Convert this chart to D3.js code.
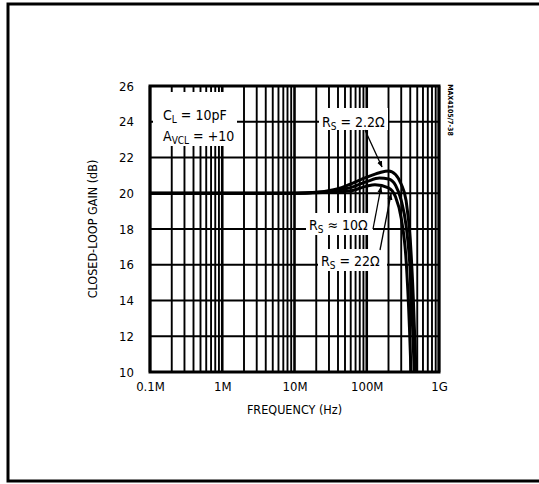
<!DOCTYPE html>
<html><head><meta charset="utf-8">
<script src="https://cdn.jsdelivr.net/npm/d3@7"></script>
<style>
body{margin:0;background:#fff;}
text{font-family:"Liberation Sans Narrow","DejaVu Sans Condensed","Liberation Sans",sans-serif;fill:#000;}
</style></head><body>
<svg id="c" width="539" height="484"></svg>
<script>
// ---- data ----
const xTickValues = [1e5, 1e6, 1e7, 1e8, 1e9];
const xTickLabels = ["0.1M", "1M", "10M", "100M", "1G"];
const yTickValues = [10, 12, 14, 16, 18, 20, 22, 24, 26];
const freqRs2p2 = [0.1, 1, 10, 20, 40, 58, 100, 150, 200, 250, 300, 350, 400, 440, 480, 500];
const gainRs2p2 = [20, 20, 20, 20.05, 20.25, 20.5, 20.9, 21.15, 21.25, 21.05, 20.5, 19.6, 17.4, 14.2, 10, 8];
const freqRs10 = [0.1, 1, 10, 20, 40, 58, 100, 150, 200, 250, 300, 350, 400, 430, 455, 480];
const gainRs10 = [20, 20, 20, 20.04, 20.18, 20.3, 20.65, 20.85, 20.8, 20.45, 19.6, 18.2, 15.6, 12.6, 10, 8];
const freqRs22 = [0.1, 1, 10, 20, 40, 58, 100, 130, 200, 250, 300, 350, 390, 410, 430];
const gainRs22 = [20, 20, 20, 20.03, 20.08, 20.12, 20.4, 20.47, 20.3, 19.8, 18.6, 16.3, 12.5, 10, 8];
const seriesNames = ["RS = 2.2Ω", "RS = 10Ω", "RS = 22Ω"];

const svg = d3.select("#c");
const L = 150, R = 439, T = 86, B = 372;
const x = d3.scaleLog().domain([1e5, 1e9]).range([L, R]);
const y = d3.scaleLinear().domain([10, 26]).range([B, T]);

// outer frame
svg.append("rect").attr("x", 8).attr("y", 4).attr("width", 560).attr("height", 477)
  .attr("fill", "none").attr("stroke", "#000").attr("stroke-width", 3);

// grid
const minor = [];
for (let d = 5; d < 9; d++) for (let m = 1; m <= 9; m++) minor.push(m * Math.pow(10, d));
minor.push(1e9);
const g = svg.append("g");
g.selectAll("line.v").data(minor).join("line")
  .attr("x1", d => x(d)).attr("x2", d => x(d)).attr("y1", T).attr("y2", B)
  .attr("stroke", "#000").attr("stroke-width", d => (xTickValues.includes(d) ? 2.6 : 1.9));
g.selectAll("line.h").data(yTickValues).join("line")
  .attr("x1", L).attr("x2", R).attr("y1", d => y(d)).attr("y2", d => y(d))
  .attr("stroke", "#000").attr("stroke-width", 2);

// curves
const clip = svg.append("clipPath").attr("id", "pc").append("rect")
  .attr("x", L).attr("y", T).attr("width", R - L).attr("height", B - T);
const line = d3.line().x(d => x(d[0] * 1e6)).y(d => y(d[1])).curve(d3.curveMonotoneX);
[[freqRs2p2, gainRs2p2], [freqRs10, gainRs10], [freqRs22, gainRs22]].forEach(([f, gn]) => {
  svg.append("path").attr("clip-path", "url(#pc)")
    .attr("d", line(f.map((v, i) => [v, gn[i]])))
    .attr("fill", "none").attr("stroke", "#000").attr("stroke-width", 3);
});

// label boxes (white)
function box(x0, y0, w, h) {
  svg.append("rect").attr("x", x0).attr("y", y0).attr("width", w).attr("height", h).attr("fill", "#fff");
}
box(153, 92, 84, 54);
box(319, 108, 69, 22);
box(306, 213, 67, 22);
box(318, 249, 69, 22);

// plot border
svg.append("rect").attr("x", L).attr("y", T).attr("width", R - L).attr("height", B - T)
  .attr("fill", "none").attr("stroke", "#000").attr("stroke-width", 3);

// axes
const ax = d3.axisBottom(x).tickValues(xTickValues).tickFormat((d, i) => xTickLabels[i]).tickSize(0).tickPadding(10);
const xa = svg.append("g").attr("transform", `translate(0,${B})`).call(ax);
xa.select(".domain").remove();
xa.selectAll("text").attr("font-size", 13).style("font-family", null);
const ay = d3.axisLeft(y).tickValues(yTickValues).tickSize(0).tickPadding(16);
const ya = svg.append("g").attr("transform", `translate(${L},0)`).call(ay);
ya.select(".domain").remove();
ya.selectAll("text").attr("font-size", 13).style("font-family", null);

svg.append("text").attr("x", (L + R) / 2).attr("y", 414).attr("text-anchor", "middle")
  .attr("font-size", 12.5).text("FREQUENCY (Hz)");
svg.append("text").attr("transform", `translate(97,${(T + B) / 2}) rotate(-90)`)
  .attr("text-anchor", "middle").attr("font-size", 12.5).text("CLOSED-LOOP GAIN (dB)");

// annotations
function sub(t, main, s, rest) {
  t.append("tspan").text(main);
  t.append("tspan").attr("font-size", 10).attr("dy", 3).text(s);
  t.append("tspan").attr("dy", -3).text(rest);
}
sub(svg.append("text").attr("x", 163).attr("y", 120).attr("font-size", 14), "C", "L", " = 10pF");
sub(svg.append("text").attr("x", 163).attr("y", 141).attr("font-size", 14), "A", "VCL", " = +10");
const rsLabels = [[322, 127, "2.2Ω"], [309, 230, "10Ω"], [321, 266, "22Ω"]];
rsLabels.forEach(([lx, ly, v], i) => {
  sub(svg.append("text").attr("x", lx).attr("y", ly).attr("font-size", 14), "R", "S", (i === 1 ? " ≈ " : " = ") + v);
});

// leaders with arrowheads
svg.append("defs").append("marker").attr("id", "ah").attr("viewBox", "0 0 10 10")
  .attr("refX", 9).attr("refY", 5).attr("markerWidth", 5).attr("markerHeight", 5).attr("orient", "auto")
  .append("path").attr("d", "M0,1L10,5L0,9Z").attr("fill", "#000");
const leaders = [[365, 130, 382, 167], [373, 229, 381, 187], [380, 250, 391, 194]];
leaders.forEach(([a, b, c, d]) => {
  svg.append("line").attr("x1", a).attr("y1", b).attr("x2", c).attr("y2", d)
    .attr("stroke", "#000").attr("stroke-width", 1.3).attr("marker-end", "url(#ah)");
});

// side code
svg.append("text").attr("transform", "translate(448,110) rotate(90)").attr("text-anchor", "middle")
  .attr("font-size", 7).attr("font-weight", "bold").text("MAX4105/7-38");
</script>
</body></html>
